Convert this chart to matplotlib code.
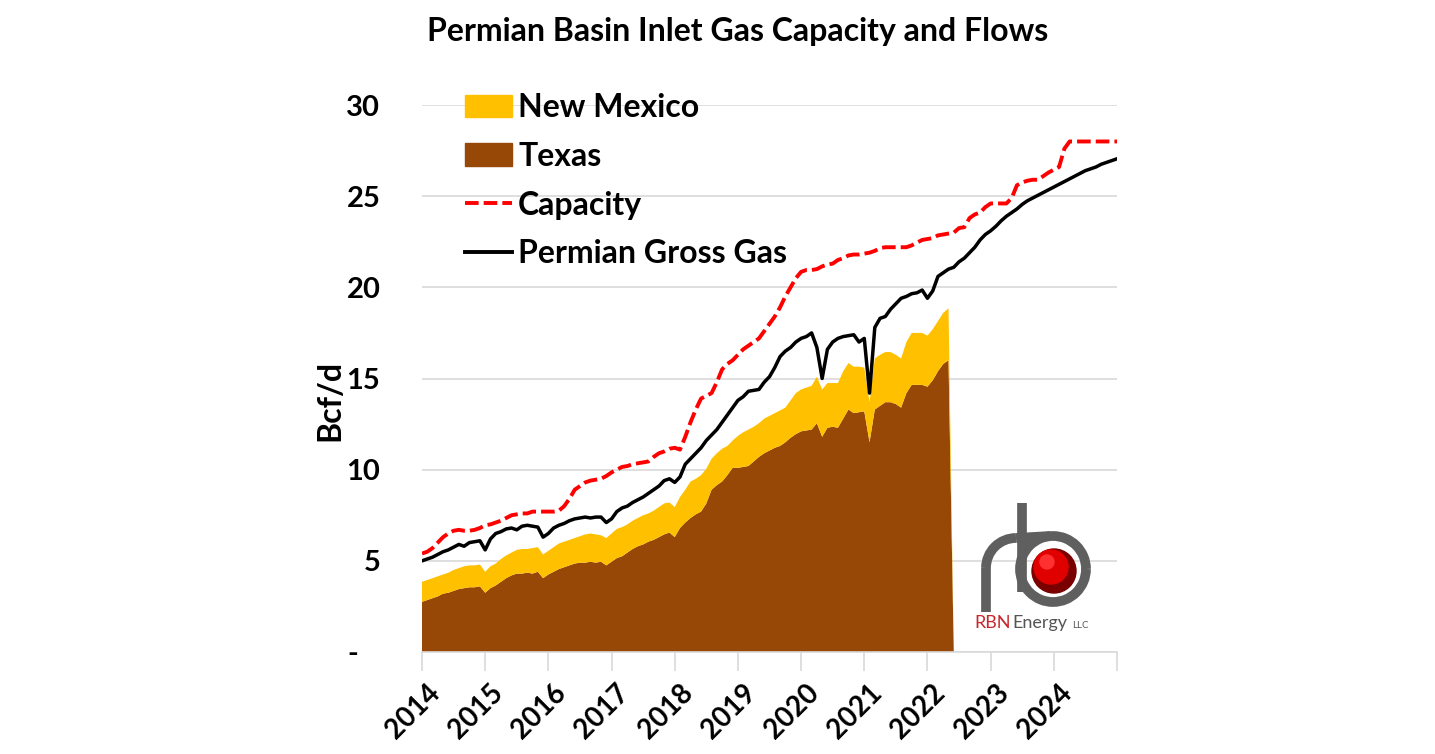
import matplotlib
matplotlib.use('Agg')
import matplotlib.pyplot as plt
import matplotlib.patches as patches
import matplotlib.transforms as mtransforms
from matplotlib.lines import Line2D

plt.rcParams['font.family'] = ['Lato', 'DejaVu Sans']
plt.rcParams['font.weight'] = 'bold'

# monthly data, Jan 2014 onwards (Bcf/d)
years = [str(y) for y in range(2014, 2025)]

gross_gas = [
    5.0, 5.1, 5.2, 5.35, 5.5, 5.6, 5.75, 5.9, 5.8, 6.0, 6.05, 6.1,
    5.6, 6.2, 6.5, 6.6, 6.75, 6.8, 6.7, 6.9, 6.95, 6.9, 6.85, 6.3,
    6.5, 6.8, 6.95, 7.05, 7.2, 7.3, 7.35, 7.4, 7.35, 7.4, 7.4, 7.1,
    7.3, 7.7, 7.9, 8.0, 8.2, 8.35, 8.5, 8.7, 8.9, 9.1, 9.4, 9.5,
    9.3, 9.6, 10.3, 10.6, 10.9, 11.2, 11.6, 11.9, 12.2, 12.6, 13.0, 13.4,
    13.8, 14.0, 14.3, 14.35, 14.4, 14.8, 15.1, 15.6, 16.2, 16.5, 16.7, 17.0,
    17.2, 17.3, 17.5, 16.7, 15.0, 16.6, 17.0, 17.2, 17.3, 17.35, 17.4, 17.0,
    17.2, 14.2, 17.8, 18.3, 18.4, 18.8, 19.1, 19.4, 19.5, 19.65, 19.7, 19.85,
    19.4, 19.8, 20.6, 20.8, 21.0, 21.1, 21.4, 21.6, 21.9, 22.2, 22.6, 22.9,
    23.1, 23.35, 23.65, 23.9, 24.1, 24.3, 24.55, 24.75, 24.9, 25.05, 25.2, 25.35,
    25.5, 25.65, 25.8, 25.95, 26.1, 26.25, 26.4, 26.5, 26.6, 26.75, 26.85, 26.95,
    27.05,
]

capacity = [
    5.4, 5.5, 5.7, 6.0, 6.3, 6.5, 6.65, 6.7, 6.65, 6.65, 6.7, 6.8,
    6.95, 7.0, 7.1, 7.2, 7.35, 7.5, 7.55, 7.6, 7.6, 7.7, 7.7, 7.7,
    7.7, 7.7, 7.75, 8.0, 8.4, 8.9, 9.1, 9.3, 9.4, 9.45, 9.5, 9.65,
    9.85, 10.0, 10.15, 10.2, 10.3, 10.35, 10.4, 10.45, 10.7, 10.9, 11.0, 11.15,
    11.2, 11.1, 11.8, 12.6, 13.3, 13.9, 14.05, 14.2, 14.8, 15.5, 15.8, 16.0,
    16.3, 16.6, 16.8, 17.0, 17.2, 17.6, 18.0, 18.4, 18.9, 19.5, 20.0, 20.5,
    20.85, 20.95, 20.95, 21.0, 21.15, 21.25, 21.3, 21.5, 21.6, 21.75, 21.8, 21.8,
    21.85, 21.9, 22.0, 22.15, 22.2, 22.2, 22.2, 22.2, 22.2, 22.3, 22.45, 22.6,
    22.65, 22.7, 22.85, 22.9, 22.95, 23.0, 23.25, 23.3, 23.8, 24.0, 24.1, 24.4,
    24.6, 24.6, 24.6, 24.6, 24.9, 25.6, 25.75, 25.85, 25.9, 25.9, 26.1, 26.3,
    26.45, 26.6, 27.6, 28.0, 28.0, 28.0, 28.0, 28.0, 28.0, 28.0, 28.0, 28.0,
    28.0,
]

texas = [
    2.75, 2.85, 2.95, 3.05, 3.2, 3.25, 3.35, 3.45, 3.5, 3.55, 3.55, 3.6,
    3.25, 3.5, 3.65, 3.85, 4.05, 4.2, 4.3, 4.3, 4.35, 4.3, 4.4, 4.05,
    4.25, 4.4, 4.55, 4.65, 4.75, 4.85, 4.9, 4.9, 4.95, 4.9, 4.95, 4.75,
    4.95, 5.15, 5.25, 5.45, 5.65, 5.8, 5.9, 6.05, 6.15, 6.3, 6.45, 6.55,
    6.3, 6.8, 7.1, 7.35, 7.55, 7.7, 8.15, 8.9, 9.15, 9.35, 9.7, 10.1,
    10.1, 10.15, 10.2, 10.45, 10.7, 10.9, 11.05, 11.2, 11.3, 11.5, 11.75, 11.95,
    12.1, 12.15, 12.2, 12.55, 11.8, 12.3, 12.35, 12.3, 12.8, 13.3, 13.1, 13.15,
    13.2, 11.5, 13.3, 13.5, 13.7, 13.7, 13.6, 13.4, 14.2, 14.65, 14.65, 14.65,
    14.55, 14.9, 15.4, 15.8, 16.0, 0.0,
]

new_mexico = [
    1.1, 1.1, 1.1, 1.1, 1.05, 1.1, 1.15, 1.15, 1.2, 1.2, 1.2, 1.2,
    1.15, 1.2, 1.2, 1.25, 1.25, 1.25, 1.3, 1.35, 1.3, 1.4, 1.35, 1.3,
    1.3, 1.35, 1.4, 1.4, 1.4, 1.4, 1.45, 1.55, 1.55, 1.55, 1.45, 1.5,
    1.55, 1.6, 1.6, 1.55, 1.55, 1.55, 1.6, 1.55, 1.6, 1.65, 1.7, 1.65,
    1.65, 1.7, 1.8, 2.0, 1.95, 2.0, 1.9, 1.7, 1.75, 1.8, 1.6, 1.5,
    1.75, 1.9, 2.0, 1.9, 1.85, 1.9, 1.9, 1.9, 1.95, 1.9, 2.05, 2.25,
    2.3, 2.35, 2.4, 2.55, 2.6, 2.45, 2.4, 2.45, 2.6, 2.55, 2.55, 2.5,
    2.4, 2.2, 2.8, 2.8, 2.75, 2.75, 2.7, 2.7, 2.8, 2.85, 2.85, 2.85,
    2.8, 2.8, 2.75, 2.8, 2.85, 0.0,
]

GOLD = '#FFC000'
BROWN = '#974706'
GRID = '#d9d9d9'

W, H = 1435, 754
fig = plt.figure(figsize=(W / 100, H / 100), dpi=100)
ax = fig.add_axes([422 / W, 1 - 652 / H, 695 / W, 547 / H])

ax.stackplot(range(len(texas)), texas, new_mexico, colors=[BROWN, GOLD], linewidth=0)
ax.plot(range(len(capacity)), capacity, color='#ff0000', lw=2.8, dashes=(3.5, 1.3))
ax.plot(range(len(gross_gas)), gross_gas, color='black', lw=2.5)

ax.set_xlim(0, 132)
ax.set_ylim(0, 30)
ax.set_axisbelow(True)
ax.yaxis.grid(True, color=GRID, lw=1.2)
for s in ['left', 'top', 'right']:
    ax.spines[s].set_visible(False)
ax.spines['bottom'].set_color(GRID)
ax.spines['bottom'].set_linewidth(1.2)

ax.set_yticks(range(0, 31, 5))
ax.set_yticklabels(['-   '] + [str(v) for v in range(5, 31, 5)], fontsize=21)
ax.tick_params(axis='y', length=0, pad=30)

ax.set_xticks(range(0, 133, 12))
ax.set_xticklabels(years + [''], rotation=45, ha='right', fontsize=20)
ax.tick_params(axis='x', length=14, width=1.2, color=GRID, pad=6)
shift = mtransforms.ScaledTranslation(0.23, 0, fig.dpi_scale_trans)
for lbl in ax.get_xticklabels():
    lbl.set_transform(lbl.get_transform() + shift)

handles = [
    patches.Patch(color=GOLD),
    patches.Patch(color=BROWN),
    Line2D([], [], color='#ff0000', lw=2.8, dashes=(3.5, 1.3)),
    Line2D([], [], color='black', lw=2.8),
]
labels = ['New Mexico', 'Texas', 'Capacity', 'Permian Gross Gas']
ax.legend(handles, labels, loc='upper left', bbox_to_anchor=(0.062, 1.022),
          frameon=False, fontsize=23, handlelength=1.47, handletextpad=0.19,
          labelspacing=0.62, borderpad=0, borderaxespad=0)

fig.text(738 / W, 1 - 32 / H, 'Permian Basin Inlet Gas Capacity and Flows',
         ha='center', va='center', fontsize=23, fontweight='bold')
fig.text(330 / W, 1 - 400 / H, 'Bcf/d', ha='center', va='center',
         rotation=90, fontsize=23, fontweight='bold')

# RBN Energy logo, drawn roughly in pixel space
lg = fig.add_axes([0, 0, 1, 1])
lg.set_xlim(0, W)
lg.set_ylim(H, 0)
lg.axis('off')
pipe = '#5f5f5f'
pw = 7
lg.add_patch(patches.Circle((1054, 571), 22, color='#7a0000', zorder=2))
lg.add_patch(patches.Circle((1051, 567), 17, color='#e00000', zorder=3))
lg.add_patch(patches.Circle((1047, 562), 7, color='#ff3030', zorder=4))
lg.add_patch(patches.Arc((1053, 569), 66, 66, theta1=0, theta2=360,
                         color=pipe, lw=pw, zorder=5))
lg.plot([1022, 1022], [503, 592], color=pipe, lw=pw, solid_capstyle='butt', zorder=6)
lg.add_patch(patches.Arc((1016, 568), 60, 60, theta1=180, theta2=270,
                         color=pipe, lw=pw, zorder=6))
lg.plot([1016, 1050], [538, 536], color=pipe, lw=pw, solid_capstyle='butt', zorder=6)
lg.plot([986, 986], [568, 612], color=pipe, lw=pw, solid_capstyle='butt', zorder=6)
lg.text(974, 623, 'RBN', color='#c8282d', fontsize=13, fontweight='normal',
        ha='left', va='center')
lg.text(1012, 623, 'Energy', color='#555555', fontsize=13, fontweight='normal',
        ha='left', va='center')
lg.text(1072, 626, 'LLC', color='#555555', fontsize=7, fontweight='normal',
        ha='left', va='center')

fig.savefig('out.png', dpi=100, facecolor='white')
